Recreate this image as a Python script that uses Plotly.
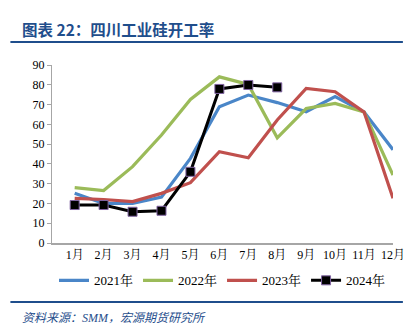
import plotly.graph_objects as go

months = ["1月", "2月", "3月", "4月", "5月", "6月", "7月", "8月", "9月", "10月", "11月", "12月"]
y2021 = [25.1, 20.0, 20.0, 23.2, 42.8, 68.9, 74.8, 71.0, 66.4, 74.0, 66.2, 47.2]
y2022 = [28.0, 26.5, 38.6, 54.6, 72.6, 84.0, 80.2, 53.2, 68.0, 70.6, 66.2, 34.4]
y2023 = [22.6, 22.0, 20.9, 25.1, 30.5, 46.2, 43.1, 62.2, 78.2, 76.5, 66.2, 22.6]
y2024 = [19.2, 19.2, 15.8, 16.3, 36.0, 77.9, 79.9, 78.7]

serif = "Liberation Serif, Times New Roman, Noto Serif CJK SC, Noto Sans CJK SC, serif"

fig = go.Figure()
fig.add_trace(go.Scatter(x=months, y=y2021, mode="lines", name="2021年",
                         line=dict(color="#4A86C8", width=3.2)))
fig.add_trace(go.Scatter(x=months, y=y2022, mode="lines", name="2022年",
                         line=dict(color="#9BBB59", width=3.2)))
fig.add_trace(go.Scatter(x=months, y=y2023, mode="lines", name="2023年",
                         line=dict(color="#C0504D", width=3.2)))
fig.add_trace(go.Scatter(x=months[:len(y2024)], y=y2024, mode="lines+markers", name="2024年",
                         line=dict(color="#000000", width=3),
                         marker=dict(symbol="square", size=9, color="#000000",
                                     line=dict(color="#8064A2", width=1))))

fig.update_layout(
    width=417, height=335,
    margin=dict(l=52, r=20, t=65, b=92),
    paper_bgcolor="white", plot_bgcolor="white",
    showlegend=True,
    legend=dict(orientation="h", x=0.5, xanchor="center", y=-0.21, yanchor="middle",
                font=dict(family=serif, size=13, color="#000000"),
                itemwidth=30, tracegroupgap=0, bgcolor="rgba(0,0,0,0)"),
    xaxis=dict(type="category", showline=True, linecolor="#A6A6A6", linewidth=1.5,
               ticks="", showgrid=False, zeroline=False,
               tickfont=dict(family=serif, size=12, color="#000000"), fixedrange=True),
    yaxis=dict(range=[0, 90], dtick=10, showline=True, linecolor="#A6A6A6", linewidth=1,
               ticks="outside", ticklen=4, tickcolor="#A6A6A6", showgrid=False, zeroline=False,
               tickfont=dict(family=serif, size=12, color="#000000"), fixedrange=True),
    shapes=[
        dict(type="line", xref="paper", yref="paper", x0=-0.122, x1=1.029, y0=1.129, y1=1.129,
             line=dict(color="#1F4E8C", width=2)),
        dict(type="line", xref="paper", yref="paper", x0=-0.122, x1=1.029, y0=-0.331, y1=-0.331,
             line=dict(color="#1F4E8C", width=2)),
    ],
    annotations=[
        dict(text="<b>图表 22：四川工业硅开工率</b>", xref="paper", yref="paper",
             x=-0.093, y=1.202, xanchor="left", yanchor="middle", showarrow=False,
             font=dict(family="Noto Sans CJK SC", size=15.5, color="#1F4E8C")),
        dict(text="<i>资料来源：SMM，宏源期货研究所</i>", xref="paper", yref="paper",
             x=-0.093, y=-0.421, xanchor="left", yanchor="middle", showarrow=False,
             font=dict(family="Liberation Serif, Noto Sans CJK SC", size=12, color="#1F4E8C")),
    ],
)

fig.write_html("out.html")
